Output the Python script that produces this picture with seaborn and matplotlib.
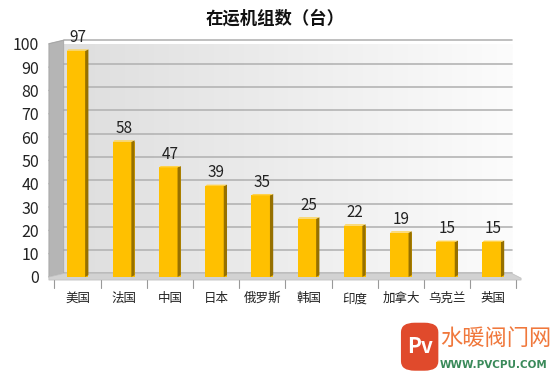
import numpy as np
import pandas as pd
import matplotlib
matplotlib.use("Agg")
import matplotlib.pyplot as plt
import seaborn as sns
from matplotlib.patches import Polygon, Rectangle, FancyBboxPatch

countries = ["美国", "法国", "中国", "日本", "俄罗斯", "韩国", "印度", "加拿大", "乌克兰", "英国"]
units = [97, 58, 47, 39, 35, 25, 22, 19, 15, 15]
yticks = [0, 10, 20, 30, 40, 50, 60, 70, 80, 90, 100]
title = "在运机组数（台）"

sns.set_theme(style="white")
plt.rcParams['font.family'] = ['Noto Sans CJK SC', 'DejaVu Sans']

df = pd.DataFrame({"country": countries, "units": units})

fig = plt.figure(figsize=(5.5, 3.81), dpi=100)
ax = fig.add_axes([0.099, 0.273, 0.840, 0.612])

# background gradient (back wall)
grad = np.linspace(0.0, 1.0, 256).reshape(1, -1)
ax.imshow(grad, extent=[-0.3, 9.4, 1.5, 101.5], aspect="auto",
          cmap=matplotlib.colors.LinearSegmentedColormap.from_list("g", ["#dedede", "#fcfcfc"]), zorder=0)

ax.set_xlim(-0.5, 9.5)
ax.set_ylim(0, 100)

for t in yticks:
    ax.plot([-0.3, 9.4], [t + 1.5, t + 1.5], color="#b4b4b4", lw=1.2, zorder=1, clip_on=False)
    ax.plot([-0.62, -0.3], [t, t + 1.5], color="#b4b4b4", lw=1.0, zorder=1, clip_on=False)

# left wall
ax.add_patch(Polygon([[-0.62, 0], [-0.3, 1.5], [-0.3, 101.5], [-0.62, 100]], closed=True,
                     facecolor="#b5b5b5", edgecolor="#a5a5a5", lw=0.6, zorder=1, clip_on=False))
# floor
ax.add_patch(Polygon([[-0.62, 0], [-0.3, 1.5], [9.4, 1.5], [9.6, -0.5], [9.6, -1.3], [-0.62, -1.3]], closed=True,
                     facecolor="#d2d2d2", edgecolor="#c2c2c2", lw=0.6, zorder=1, clip_on=False))

sns.barplot(data=df, x="country", y="units", color="#FFC000", width=0.47, saturation=1,
            ax=ax, zorder=3, edgecolor="none")

# 3D-like side shading derived from bar patches
for p in list(ax.patches):
    if isinstance(p, Rectangle) and p.get_facecolor()[0] > 0.9 and p.get_height() > 0:
        x0, w, h = p.get_x(), p.get_width(), p.get_height()
        side = w * 0.15
        ax.add_patch(Polygon([[x0 + w - side, 0], [x0 + w, 0.8], [x0 + w, h + 0.6], [x0 + w - side, h]],
                             closed=True, facecolor="#967000", edgecolor="none", zorder=4))
        ax.add_patch(Polygon([[x0, h], [x0 + w - side, h], [x0 + w, h + 0.6], [x0 + side * 0.5, h + 0.6]],
                             closed=True, facecolor="#ffd24a", edgecolor="none", zorder=4))
        ax.text(x0 + w / 2, h + 2.0, f"{int(round(h))}", ha="center", va="bottom",
                fontsize=11, color="#222222", zorder=5)

ax.set_xlabel("")
ax.set_ylabel("")
ax.set_yticks(yticks)
ax.set_yticklabels([str(t) for t in yticks], fontsize=11.5, color="#222222")
ax.tick_params(axis="y", length=0, pad=11)
ax.tick_params(axis="x", length=0, pad=11, labelsize=9, labelcolor="#222222")
for s in ax.spines.values():
    s.set_visible(False)
ax.grid(False)

# x tick marks between categories
for i in range(len(countries) + 1):
    ax.plot([i - 0.5, i - 0.5], [-1.3, -4.8], color="#999999", lw=0.8, clip_on=False, zorder=2)

fig.text(0.5, 0.952, title, ha="center", va="center", fontsize=12.5, fontweight="bold", color="#111111")

# watermark
fig.patches.append(FancyBboxPatch((0.732, 0.03), 0.062, 0.12, boxstyle="round,pad=0.003,rounding_size=0.025",
                                  transform=fig.transFigure, facecolor="#e04a2c", edgecolor="none"))
fig.text(0.763, 0.09, "Pv", ha="center", va="center", fontsize=15, fontstyle="italic", color="white", fontweight="bold")
fig.text(0.80, 0.112, "水暖阀门网", ha="left", va="center", fontsize=16, color="#f0783c")
fig.text(0.80, 0.043, "WWW.PVCPU.COM", ha="left", va="center", fontsize=7.5, color="#3a8a5a",
         fontweight="bold", family=["DejaVu Sans"])

fig.savefig("out.png", dpi=100)
